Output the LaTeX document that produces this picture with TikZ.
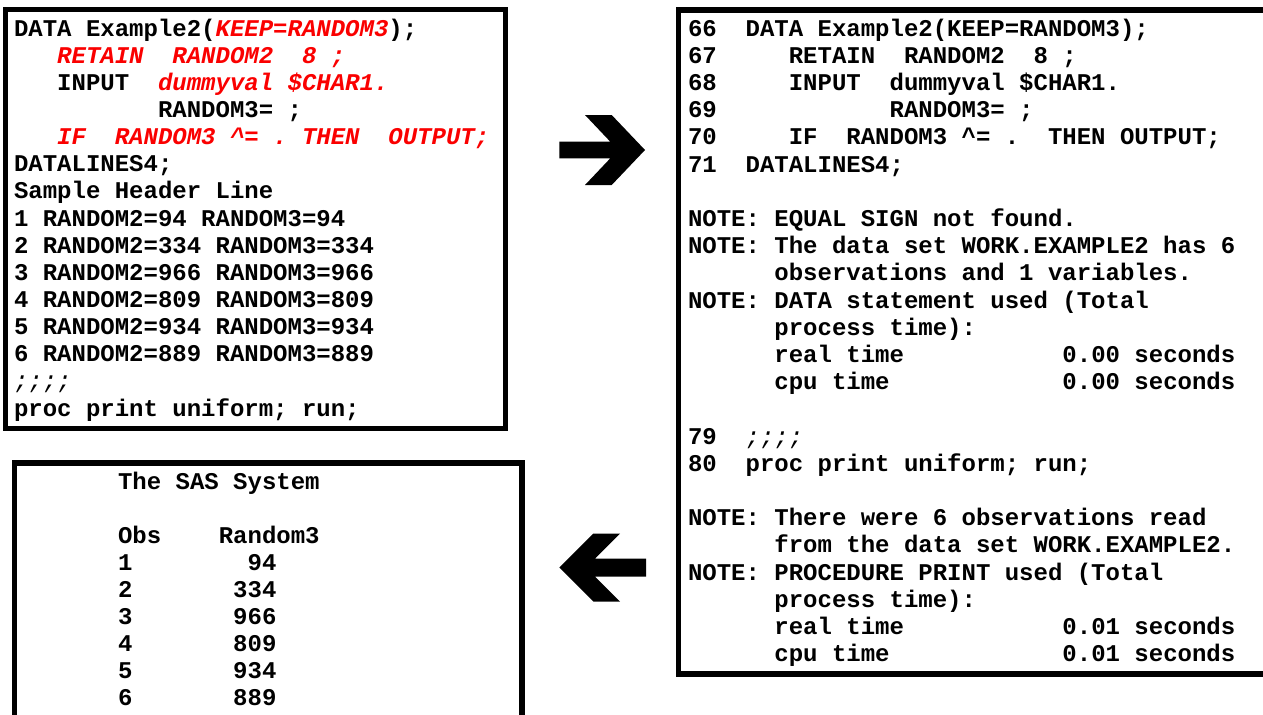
\documentclass[tikz,border=0pt]{standalone}
\usepackage{fontspec}
\newfontfamily\cour{Liberation Mono}
\definecolor{sasred}{RGB}{250,0,0}
\newcommand\rit[1]{\textcolor{sasred}{\itshape #1}}
\newcommand\semis{{\mdseries\itshape ;;;;}}
\begin{document}
\begin{tikzpicture}[x=0.75pt,y=-0.75pt,
  ln/.style={anchor=base west, inner sep=0pt, outer sep=0pt,
    font=\cour\bfseries\fontsize{18}{20}\selectfont\frenchspacing},
  box/.style={draw=black, line width=4.2pt, miter limit=10, inner sep=0pt, outer sep=0pt, anchor=north west},
  blockarrow/.style={fill=black, draw=none}]
\useasboundingbox (0,0) rectangle (1263,714);
\clip (0,0) rectangle (1263,714);

% boxes
\node[box, minimum width=375pt, minimum height=314.25pt] (box1) at (5.5,9.5) {};
\node[box, minimum width=447.4pt, minimum height=498pt] (box2) at (678.5,10) {};
\node[box, minimum width=380.6pt, minimum height=207.75pt] (box3) at (14.5,463) {};

% box 1 : program
\node[ln] (a1)  at (14,36)    {DATA Example2(\rit{KEEP=RANDOM3});};
\node[ln] (a2)  at (14,63.1)  {~~~\rit{RETAIN~~RANDOM2~~8~;}};
\node[ln] (a3)  at (14,90.3)  {~~~INPUT~~\rit{dummyval~\$CHAR1.}};
\node[ln] (a4)  at (14,117.4) {~~~~~~~~~~RANDOM3=~;};
\node[ln] (a5)  at (14,144.6) {~~~\rit{IF~~RANDOM3~\textasciicircum=~.~THEN~~OUTPUT;}};
\node[ln] (a6)  at (14,171.7) {DATALINES4;};
\node[ln] (a7)  at (14,198.8) {Sample Header Line};
\node[ln] (a8)  at (14,226.0) {1 RANDOM2=94 RANDOM3=94};
\node[ln] (a9)  at (14,253.1) {2 RANDOM2=334 RANDOM3=334};
\node[ln] (a10) at (14,280.3) {3 RANDOM2=966 RANDOM3=966};
\node[ln] (a11) at (14,307.4) {4 RANDOM2=809 RANDOM3=809};
\node[ln] (a12) at (14,334.5) {5 RANDOM2=934 RANDOM3=934};
\node[ln] (a13) at (14,361.7) {6 RANDOM2=889 RANDOM3=889};
\node[ln] (a14) at (14,388.8) {\semis};
\node[ln] (a15) at (14,416.0) {proc print uniform; run;};

% box 2 : log
\node[ln] (b1)  at (688,36)    {66~~DATA Example2(KEEP=RANDOM3);};
\node[ln] (b2)  at (688,63.2)  {67~~~~~RETAIN~~RANDOM2~~8~;};
\node[ln] (b3)  at (688,90.4)  {68~~~~~INPUT~~dummyval~\$CHAR1.};
\node[ln] (b4)  at (688,117.6) {69~~~~~~~~~~~~RANDOM3=~;};
\node[ln] (b5)  at (688,144.8) {70~~~~~IF~~RANDOM3~\textasciicircum=~.~~THEN~OUTPUT;};
\node[ln] (b6)  at (688,172.0) {71~~DATALINES4;};
\node[ln] (b8)  at (688,226.4) {NOTE:~EQUAL SIGN not found.};
\node[ln] (b9)  at (688,253.6) {NOTE:~The data set WORK.EXAMPLE2 has 6};
\node[ln] (b10) at (688,280.8) {~~~~~~observations and 1 variables.};
\node[ln] (b11) at (688,308.0) {NOTE:~DATA statement used (Total};
\node[ln] (b12) at (688,335.2) {~~~~~~process time):};
\node[ln] (b13) at (688,362.4) {~~~~~~real time~~~~~~~~~~~0.00 seconds};
\node[ln] (b14) at (688,389.6) {~~~~~~cpu time~~~~~~~~~~~~0.00 seconds};
\node[ln] (b16) at (688,444.0) {79~~\semis};
\node[ln] (b17) at (688,471.2) {80~~proc print uniform; run;};
\node[ln] (b19) at (688,525.6) {NOTE:~There were 6 observations read};
\node[ln] (b20) at (688,552.8) {~~~~~~from the data set WORK.EXAMPLE2.};
\node[ln] (b21) at (688,580.0) {NOTE:~PROCEDURE PRINT used (Total};
\node[ln] (b22) at (688,607.2) {~~~~~~process time):};
\node[ln] (b23) at (688,634.4) {~~~~~~real time~~~~~~~~~~~0.01 seconds};
\node[ln] (b24) at (688,661.6) {~~~~~~cpu time~~~~~~~~~~~~0.01 seconds};

% box 3 : output
\node[ln] (c1) at (118,489) {The SAS System};
\node[ln] (c3) at (118,543) {Obs~~~~Random3};
\node[ln] (c4) at (118,570) {1~~~~~~~~94};
\node[ln] (c5) at (118,597) {2~~~~~~~334};
\node[ln] (c6) at (118,624) {3~~~~~~~966};
\node[ln] (c7) at (118,651) {4~~~~~~~809};
\node[ln] (c8) at (118,678) {5~~~~~~~934};
\node[ln] (c9) at (118,705) {6~~~~~~~889};

% block arrows
\fill[blockarrow] (559.3,141.7) -- (610.3,141.7) -- (585,115) -- (611.7,115) -- (645,150)
  -- (611.7,185) -- (585,185) -- (610.3,158.3) -- (559.3,158.3) -- cycle;
\fill[blockarrow] (646,558.5) -- (595,558.5) -- (620,533.5) -- (593.3,533.5) -- (559.3,567.5)
  -- (593.3,601.5) -- (620,601.5) -- (595,576.5) -- (646,576.5) -- cycle;
\end{tikzpicture}
\end{document}
